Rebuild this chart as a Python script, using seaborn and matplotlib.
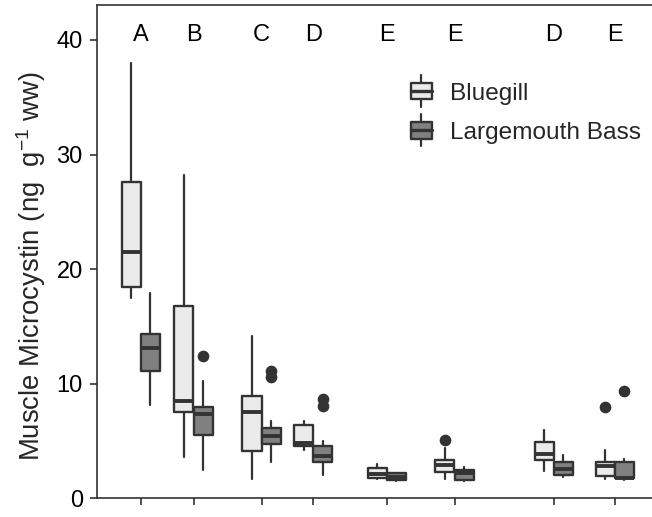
import matplotlib
matplotlib.use("Agg")
import matplotlib.pyplot as plt
import seaborn as sns
from matplotlib.legend_handler import HandlerBase
from matplotlib.patches import Rectangle
from matplotlib.lines import Line2D

# Sampling events: position along the season and significance group letters
sample_pos = [0, 53, 121, 172.5, 246, 314, 413, 474]
letters = ["A", "B", "C", "D", "E", "E", "D", "E"]
species = ["Bluegill", "Largemouth Bass"]

# Bluegill muscle microcystin (ng g-1 ww): box-plot summaries per event
bg_low = [17.45, 3.6, 1.65, 4.2, 1.65, 1.65, 2.4, 1.7]
bg_q1 = [18.4, 7.5, 4.15, 4.55, 1.8, 2.3, 3.3, 1.95]
bg_med = [21.5, 8.5, 7.55, 4.8, 2.1, 2.9, 3.85, 2.85]
bg_q3 = [27.6, 16.8, 8.9, 6.4, 2.65, 3.3, 4.95, 3.15]
bg_high = [38.0, 28.2, 14.2, 6.75, 2.95, 4.35, 6.0, 4.25]
bg_out = [[], [], [], [], [], [5.1], [], [8.0]]

# Largemouth Bass muscle microcystin (ng g-1 ww)
lmb_low = [8.1, 2.5, 3.2, 2.0, 1.5, 1.5, 1.85, 1.6]
lmb_q1 = [11.1, 5.55, 4.75, 3.15, 1.6, 1.6, 2.0, 1.75]
lmb_med = [13.1, 7.35, 5.45, 3.7, 1.9, 2.2, 2.55, 1.8]
lmb_q3 = [14.3, 8.0, 6.15, 4.55, 2.2, 2.45, 3.2, 3.2]
lmb_high = [17.9, 10.2, 6.75, 5.0, 2.25, 2.7, 3.75, 3.45]
lmb_out = [[], [12.4], [11.1, 10.6], [8.7, 8.05], [], [], [], [9.35]]

fills = {"Bluegill": "#ebebeb", "Largemouth Bass": "#808080"}
ink = "#333333"

sns.set_theme(style="white")
plt.rcParams["font.family"] = ["Liberation Sans", "DejaVu Sans"]
plt.rcParams["mathtext.fontset"] = "custom"
plt.rcParams["mathtext.rm"] = "Liberation Sans"
plt.rcParams["mathtext.it"] = "Liberation Sans:italic"
plt.rcParams["mathtext.bf"] = "Liberation Sans:bold"

fig = plt.figure(figsize=(6.52, 5.17), dpi=100)
ax = fig.add_axes([96.7 / 652, 18.7 / 517, (660 - 96.7) / 652, 493.3 / 517])


def summaries(low, q1, med, q3, high, out):
    return [dict(whislo=a, q1=b, med=c, q3=d, whishi=e, fliers=f)
            for a, b, c, d, e, f in zip(low, q1, med, q3, high, out)]


dodge = 9.7
width = 19
series = [
    ("Bluegill", -dodge, summaries(bg_low, bg_q1, bg_med, bg_q3, bg_high, bg_out)),
    ("Largemouth Bass", dodge, summaries(lmb_low, lmb_q1, lmb_med, lmb_q3, lmb_high, lmb_out)),
]
for name, off, stats in series:
    ax.bxp(stats, positions=[p + off for p in sample_pos], widths=width,
           patch_artist=True, showcaps=False, manage_ticks=False,
           boxprops=dict(facecolor=fills[name], edgecolor=ink, linewidth=1.7,
                         joinstyle="round"),
           medianprops=dict(color=ink, linewidth=2.8, solid_capstyle="butt"),
           whiskerprops=dict(color=ink, linewidth=1.6),
           flierprops=dict(marker="o", markerfacecolor=ink, markeredgecolor=ink,
                           markersize=7.4, linestyle="none"))

for p, lab in zip(sample_pos, letters):
    ax.text(p, 39.9, lab, ha="center", va="baseline", fontsize=17, color="black")

ax.set_xlim(-44, 660 - 140.7)
ax.set_ylim(0, 43.05)
ax.set_xticks(sample_pos)
ax.set_xticklabels([])
ax.set_yticks([0, 10, 20, 30, 40])
ax.tick_params(axis="both", direction="out", length=5.3, width=1.2, color=ink,
               labelsize=17, labelcolor="black", pad=4.7, bottom=True, left=True)
for side in ["left", "top", "bottom", "right"]:
    ax.spines[side].set_color(ink)
    ax.spines[side].set_linewidth(1.2)
ax.set_ylabel("Muscle Microcystin (ng  g$^{-1}$ ww)", fontsize=19.8)
ax.yaxis.set_label_coords(-0.087, 0.47)
ax.set_xlabel("")


class BoxKey(HandlerBase):
    def create_artists(self, legend, orig_handle, xdescent, ydescent,
                       width, height, fontsize, trans):
        face = orig_handle.get_facecolor()
        cx = width / 2 - xdescent
        cy = height / 2 - ydescent
        bw, bh, wh = 14.9, 12.0, 22.8
        whisk = Line2D([cx, cx], [cy - wh / 2, cy + wh / 2], color=ink,
                       linewidth=1.6, transform=trans)
        box = Rectangle((cx - bw / 2, cy - bh / 2), bw, bh, facecolor=face,
                        edgecolor=ink, linewidth=1.7, joinstyle="round",
                        transform=trans)
        med = Line2D([cx - bw / 2, cx + bw / 2], [cy, cy], color=ink,
                     linewidth=2.4, transform=trans)
        return [whisk, box, med]


handles = [Rectangle((0, 0), 1, 1, facecolor=fills[s]) for s in species]
ax.legend(handles, species, handler_map={Rectangle: BoxKey()},
          loc="upper left", bbox_to_anchor=(411 / 652, 1 - 82.5 / 517),
          bbox_transform=fig.transFigure, frameon=False, fontsize=17.6,
          handlelength=0.85, handleheight=0.7, handletextpad=0.76,
          labelspacing=0.7, borderpad=0, borderaxespad=0)

fig.savefig("out.png", dpi=100)
